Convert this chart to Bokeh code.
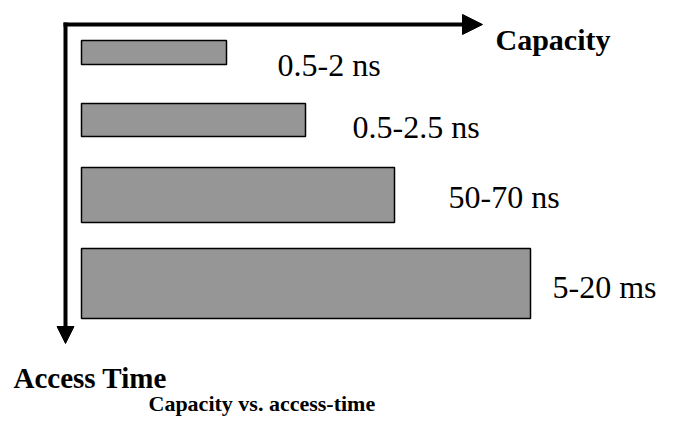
from bokeh.plotting import figure
from bokeh.models import Range1d, Arrow, NormalHead, ColumnDataSource
from bokeh.core.properties import value
from bokeh.embed import file_html
from bokeh.resources import INLINE

# ---- data ----
access_time = ["0.5-2 ns", "0.5-2.5 ns", "50-70 ns", "5-20 ms"]
capacity = [145, 224, 313, 449]          # relative capacity (bar length)

# ---- layout (vertical extents of each tier, label placement) ----
bar_top = [40, 103, 167, 248]
bar_bottom = [64, 136, 222, 318]
bar_left = 16
label_x = [212, 287, 383, 487]
label_y = [64, 126, 196, 286]

SERIF = value("Liberation Serif")

p = figure(width=657, height=418, x_range=Range1d(-65, 592), y_range=Range1d(418, 0),
           output_backend="svg", toolbar_location=None, min_border=0,
           min_border_left=0, min_border_right=0, min_border_top=0, min_border_bottom=0)
p.axis.visible = False
p.grid.visible = False
p.outline_line_color = None
p.background_fill_color = "white"
p.border_fill_color = "white"

src = ColumnDataSource(dict(
    left=[bar_left] * len(capacity),
    right=[bar_left + c for c in capacity],
    top=bar_top, bottom=bar_bottom,
    lx=label_x, ly=label_y, label=access_time,
))

p.quad(left="left", right="right", top="top", bottom="bottom", source=src,
       fill_color="#969696", line_color="black", line_width=1.5)

p.text(x="lx", y="ly", text="label", source=src, text_font=SERIF,
       text_font_size="32px", text_baseline="middle", text_align="left",
       text_color="black")

# axes arrows
p.add_layout(Arrow(x_start=-2, y_start=24, x_end=417, y_end=24, line_width=4,
                   line_color="black",
                   end=NormalHead(size=20, fill_color="black", line_color="black", line_width=1)))
p.add_layout(Arrow(x_start=0, y_start=22, x_end=0, y_end=343, line_width=4,
                   line_color="black",
                   end=NormalHead(size=17, fill_color="black", line_color="black", line_width=1)))

p.text(x=[430], y=[39], text=["Capacity"], text_font=SERIF, text_font_style="bold",
       text_font_size="30px", text_baseline="middle", text_align="left", text_color="black")
p.text(x=[-52], y=[377], text=["Access Time"], text_font=SERIF, text_font_style="bold",
       text_font_size="29px", text_baseline="middle", text_align="left", text_color="black")
p.text(x=[83], y=[403], text=["Capacity vs. access-time"], text_font=SERIF, text_font_style="bold",
       text_font_size="22px", text_baseline="middle", text_align="left", text_color="black")

open("out.html", "w").write(file_html(p, INLINE))
